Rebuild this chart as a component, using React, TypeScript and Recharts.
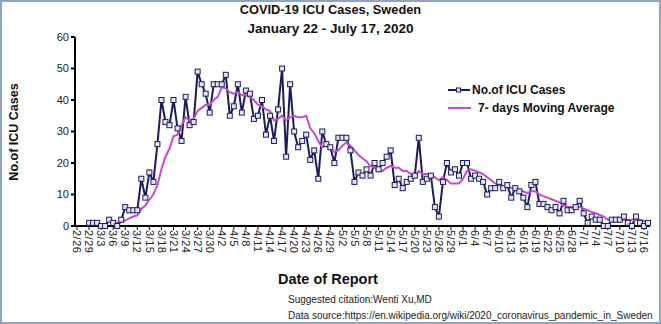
import * as React from 'react';
import { LineChart, Line, XAxis, YAxis } from 'recharts';

// ICU cases per day, Sweden, 2/26 - 7/17 (2020)
const monthSpans: Array<[number, number, number]> = [
  [2, 26, 29],
  [3, 1, 31],
  [4, 1, 30],
  [5, 1, 31],
  [6, 1, 30],
  [7, 1, 17],
];
const dates: string[] = [];
monthSpans.forEach(([m, from, to]) => {
  for (let d = from; d <= to; d++) dates.push(`${m}/${d}`);
});

const icuCases: Array<number | null> = [
  null, null, null, 1, 1, 1, 0, 0, 2, 1,
  0, 2, 6, 5, 5, 5, 15, 9, 17, 14,
  26, 40, 33, 32, 40, 31, 27, 41, 32, 33,
  49, 45, 42, 36, 45, 45, 45, 48, 35, 38,
  45, 36, 43, 42, 34, 35, 40, 29, 35, 27,
  37, 50, 22, 45, 30, 25, 27, 29, 21, 24,
  15, 30, 26, 25, 20, 28, 28, 28, 24, 14,
  17, 16, 18, 16, 20, 18, 20, 22, 24, 13,
  15, 12, 14, 15, 16, 28, 14, 15, 16, 6,
  3, 14, 20, 17, 18, 16, 20, 20, 15, 16,
  15, 14, 10, 12, 12, 14, 12, 13, 9, 12,
  11, 9, 6, 13, 14, 7, 7, 6, 5, 6,
  4, 8, 5, 5, 6, 8, 4, 1, 3, 2,
  2, 0, 0, 2, 2, 2, 3, 1, 0, 3,
  1, 0, 1,
];

const movingAvg: Array<number | null> = [
  null, null, null, null, null, null, null, null, null, 1,
  1, 1.2, 1.8, 2.4, 3, 3.4, 5.4, 6.5, 8.4, 10,
  13, 18, 22, 24.5, 28.5, 29, 32, 34.5, 33.5, 34,
  36.5, 37.5, 38.5, 38.5, 40, 41, 44, 43.7, 42.5, 42,
  42.5, 41.5, 41.5, 41, 40, 38.5, 38, 37, 36.5, 33.5,
  34, 35, 33.5, 34.5, 35, 34.5, 34.5, 35, 31, 29.5,
  27, 25, 25.5, 24.5, 23.5, 24, 25.5, 26.5, 25.5, 24,
  22.5, 21.5, 20.5, 19, 18.5, 17.5, 17.5, 18.5, 19, 18.5,
  18.5, 17.5, 17.5, 16.5, 15.5, 17.5, 16.5, 16.5, 16.5, 15.5,
  14.5, 15.5, 14.5, 13.5, 13.5, 13.5, 15, 17.5, 18, 17.5,
  17, 16.5, 15.5, 14.5, 13.5, 13, 12.5, 12.5, 12, 12,
  11.5, 11, 10.5, 11, 11, 10, 9.5, 9, 8.5, 8,
  7.5, 6.5, 6, 6, 6, 6, 5.5, 5, 4.5, 4,
  3.5, 3, 2, 2, 2, 2, 2, 2, 2, 2,
  2, 1.5, 1.5,
];

const yTicks = [0, 10, 20, 30, 40, 50, 60];

const data = dates.map((date, i) => ({
  date,
  cases: icuCases[i],
  avg: movingAvg[i],
}));

const FONT = '"Liberation Sans", Arial, sans-serif';
const NAVY = '#1c1c5c';
const PINK = '#c24bd0';

const DateTick = ({ x, y, payload }: any) => (
  <text
    x={x}
    y={y}
    dy="0.35em"
    transform={`rotate(90, ${x}, ${y})`}
    fontSize={11}
    letterSpacing={0.5}
    fontFamily={FONT}
    fill="#222"
  >
    {payload.value}
  </text>
);

const SquareDot = (props: any) => {
  const { cx, cy, value, index } = props;
  if (value == null || cx == null || cy == null) return <g key={index} />;
  return (
    <rect
      key={index}
      x={cx - 2.5}
      y={cy - 2.5}
      width={5}
      height={5}
      fill="#e4e6ef"
      stroke={NAVY}
      strokeWidth={1}
    />
  );
};

const LegendBox = () => (
  <div
    style={{
      position: 'absolute',
      left: 446,
      top: 79,
      fontWeight: 'bold',
      fontSize: 12,
      color: '#111',
    }}
  >
    <div style={{ display: 'flex', alignItems: 'center', height: 18 }}>
      <svg width={24} height={10}>
        <line x1={0} y1={5} x2={22} y2={5} stroke={NAVY} strokeWidth={2} />
        <rect x={8.5} y={3} width={4} height={4} fill="#e4e6ef" stroke={NAVY} strokeWidth={1} />
      </svg>
      <span>No.of ICU Cases</span>
    </div>
    <div style={{ display: 'flex', alignItems: 'center', height: 18 }}>
      <svg width={30} height={10}>
        <line x1={0} y1={5} x2={23} y2={5} stroke={PINK} strokeWidth={2} />
      </svg>
      <span>7- days Moving Average</span>
    </div>
  </div>
);

export default function App() {
  return (
    <div
      style={{
        position: 'absolute',
        left: 0,
        top: 0,
        width: 661,
        height: 324,
        background: '#fff',
        boxSizing: 'border-box',
        border: '2px solid #8ea3c6',
        fontFamily: FONT,
        overflow: 'hidden',
      }}
    >
      <div style={{ position: 'absolute', left: -2, top: -2 }}>
        <LineChart
          width={661}
          height={324}
          data={data}
          margin={{ top: 37, right: 11, left: 0, bottom: 58 }}
        >
          <XAxis
            dataKey="date"
            interval={2}
            padding={{ left: 2, right: 2 }}
            height={40}
            tickSize={4}
            tickMargin={0}
            axisLine={{ stroke: '#000', strokeWidth: 2 }}
            tickLine={{ stroke: '#000' }}
            tick={<DateTick />}
          />
          <YAxis
            domain={[0, 60]}
            ticks={yTicks}
            width={75}
            tickSize={4}
            axisLine={{ stroke: '#000', strokeWidth: 2 }}
            tickLine={{ stroke: '#000', strokeWidth: 2 }}
            tick={{ fontSize: 11, fill: '#222', fontFamily: FONT }}
          />
          <Line
            dataKey="cases"
            name="No.of ICU Cases"
            stroke={NAVY}
            strokeWidth={2}
            dot={SquareDot}
            activeDot={false}
            isAnimationActive={false}
          />
          <Line
            dataKey="avg"
            name="7- days Moving Average"
            stroke={PINK}
            strokeWidth={2}
            dot={false}
            activeDot={false}
            isAnimationActive={false}
          />
        </LineChart>
      </div>

      <LegendBox />

      <div
        style={{
          position: 'absolute',
          left: 0,
          width: 657,
          top: -2,
          textAlign: 'center',
          fontWeight: 'bold',
          color: '#111',
        }}
      >
        <div style={{ fontSize: 12.8, lineHeight: '19px' }}>COVID-19 ICU Cases, Sweden</div>
        <div style={{ fontSize: 13.5, lineHeight: '19px' }}>January 22 - July 17, 2020</div>
      </div>

      <div
        style={{
          position: 'absolute',
          left: 12,
          top: 130,
          transform: 'translate(-50%, -50%) rotate(-90deg)',
          whiteSpace: 'nowrap',
          fontWeight: 'bold',
          fontSize: 12.5,
          color: '#111',
        }}
      >
        No.of ICU Cases
      </div>

      <div
        style={{
          position: 'absolute',
          left: 276,
          top: 269,
          fontWeight: 'bold',
          fontSize: 14.5,
          color: '#111',
        }}
      >
        Date of Report
      </div>
      <div style={{ position: 'absolute', left: 286, top: 292, fontSize: 10, color: '#222' }}>
        Suggested citation:Wenti Xu,MD
      </div>
      <div style={{ position: 'absolute', left: 286, top: 308, fontSize: 10, color: '#222' }}>
        Data source:https://en.wikipedia.org/wiki/2020_coronavirus_pandemic_in_Sweden
      </div>
    </div>
  );
}
